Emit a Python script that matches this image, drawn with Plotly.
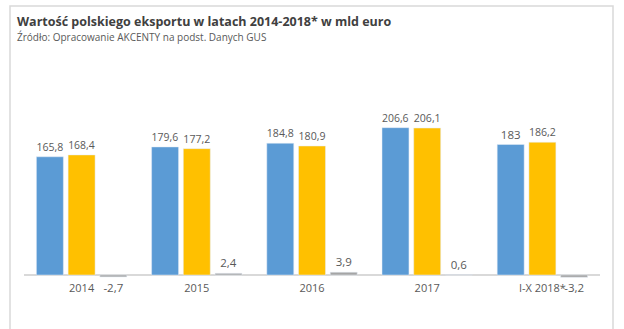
import plotly.graph_objects as go

categories = ["2014", "2015", "2016", "2017", "I-X 2018*"]
eksport = [165.8, 179.6, 184.8, 206.6, 183]
import_ = [168.4, 177.2, 180.9, 206.1, 186.2]
saldo = [-2.7, 2.4, 3.9, 0.6, -3.2]

def fmt(v):
    return f"{v:g}".replace(".", ",")

colors = ["#5B9BD5", "#FFC000", "#A5A5A5"]
names = ["Eksport", "Import", "Saldo"]
series = [eksport, import_, saldo]

fig = go.Figure()
for name, vals, c in zip(names, series, colors):
    fig.add_trace(go.Bar(
        x=categories, y=vals, name=name, marker_color=c,
        text=[fmt(v) for v in vals], textposition="outside",
        textfont=dict(size=11.5, color="#595959", family="Open Sans"),
        cliponaxis=False,
    ))

W, H = 624, 329
L, R, T, B = 24, 24, 100, 49
pw, ph = W - L - R, H - T - B

def px_x(x):
    return (x - L) / pw

def px_y(y):
    return (H - B - y) / ph

fig.update_layout(
    width=W, height=H,
    margin=dict(l=L, r=R, t=T, b=B),
    paper_bgcolor="white", plot_bgcolor="white",
    barmode="group", bargap=0.174, bargroupgap=0.15,
    showlegend=False,
    font=dict(family="Open Sans", color="#595959"),
    xaxis=dict(showline=False, showgrid=False, ticks="",
               tickfont=dict(size=11, color="#595959")),
    yaxis=dict(range=[-7, 245.4], visible=True, showticklabels=False,
               showgrid=False, zeroline=True, zerolinecolor="#D9D9D9",
               zerolinewidth=1.5, showline=False, ticks=""),
    shapes=[dict(type="rect", xref="paper", yref="paper",
                 x0=px_x(10), x1=px_x(613), y0=px_y(340), y1=px_y(6),
                 line=dict(color="#D9D9D9", width=1.5), fillcolor="rgba(0,0,0,0)",
                 layer="below")],
    annotations=[
        dict(text="<b>Wartość polskiego eksportu w latach 2014-2018* w mld euro</b>",
             xref="paper", yref="paper", x=px_x(16), y=px_y(21), xanchor="left",
             yanchor="middle", showarrow=False, borderpad=0,
             font=dict(size=12.5, color="#404040", family="Open Sans")),
        dict(text="Źródło: Opracowanie AKCENTY na podst. Danych GUS",
             xref="paper", yref="paper", x=px_x(16), y=px_y(37), xanchor="left",
             yanchor="middle", showarrow=False, borderpad=0,
             font=dict(size=10, color="#595959", family="Open Sans")),
    ],
)

fig.write_html("out.html")
